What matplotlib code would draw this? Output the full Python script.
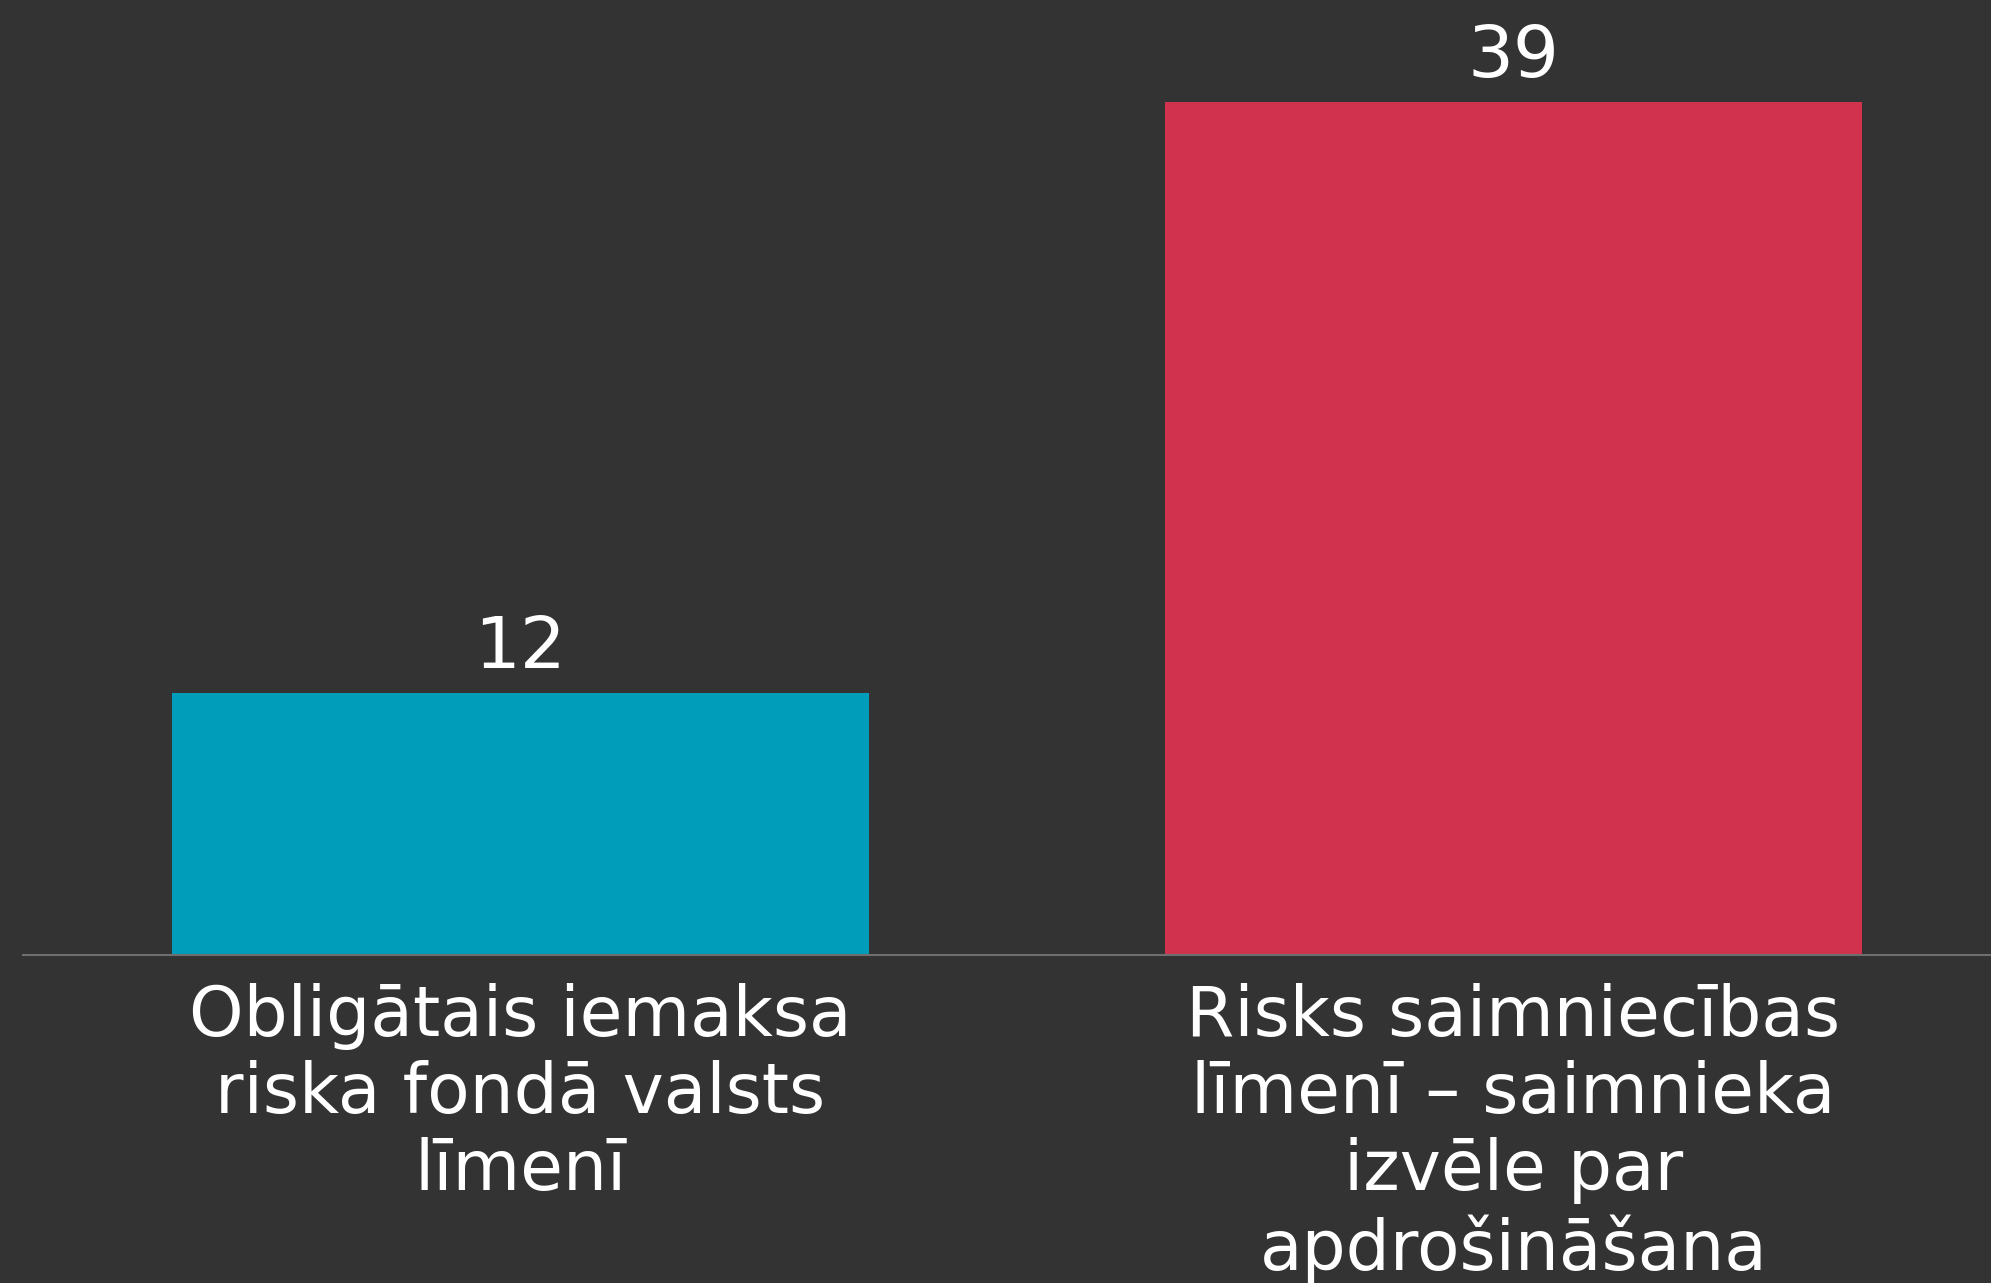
import matplotlib
matplotlib.use("Agg")
import matplotlib.pyplot as plt

plt.rcParams['font.family'] = ['DejaVu Sans']

categories = [
    "Obligātais iemaksa\nriska fondā valsts\nlīmenī",
    "Risks saimniecības\nlīmenī – saimnieka\nizvēle par\napdrošināšana",
]
values = [12, 39]
colors = ['#009dbb', '#d1334f']

BG = '#333333'

fig = plt.figure(figsize=(19.91, 12.83), dpi=100, facecolor=BG)
# axes: left edge at the grey baseline start, baseline at y=955 px
ax = fig.add_axes([23 / 1991, 1 - 955 / 1283, 1 - 23 / 1991, 955 / 1283])
ax.set_facecolor(BG)

x = list(range(len(values)))
bars = ax.bar(x, values, width=0.702, color=colors, zorder=2)

for b, v in zip(bars, values):
    ax.annotate(str(v), (b.get_x() + b.get_width() / 2, v),
                xytext=(0, 18), textcoords='offset points',
                ha='center', va='baseline', color='white', fontsize=52)

ax.set_xlim(-0.501, 1.481)
ax.set_ylim(0, 43.67)

ax.set_xticks(x)
ax.set_xticklabels(categories, color='white', fontsize=50, linespacing=1.19)
ax.tick_params(axis='x', length=0, pad=20)
ax.set_yticks([])

for s in ['top', 'right', 'left']:
    ax.spines[s].set_visible(False)
ax.spines['bottom'].set_color('#6e6e6e')
ax.spines['bottom'].set_linewidth(1.5)

fig.savefig('out.png', dpi=100, facecolor=BG)
